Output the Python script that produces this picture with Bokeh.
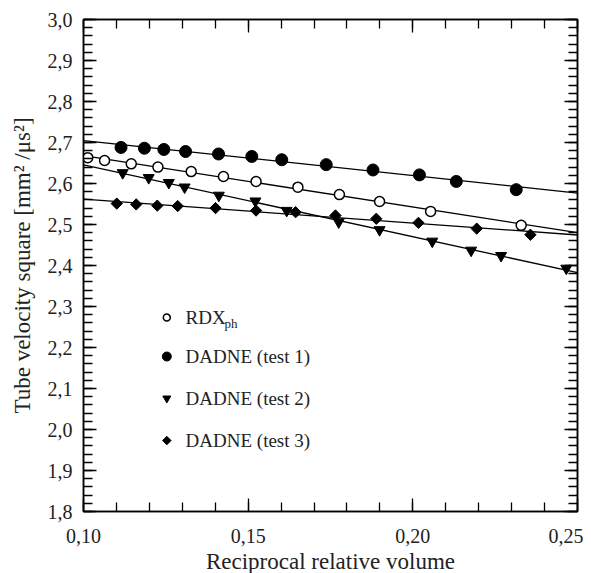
import numpy as np
from bokeh.plotting import figure
from bokeh.models import Range1d, LinearAxis, FixedTicker, Label, CustomJSTickFormatter
from bokeh.embed import file_html
from bokeh.resources import INLINE

# ---- data ----
rdx_x = [0.1013, 0.1064, 0.1145, 0.1226, 0.1327, 0.1425, 0.1524, 0.1651, 0.1777, 0.1899, 0.2054, 0.2329]
rdx_y = [2.663, 2.656, 2.648, 2.640, 2.629, 2.617, 2.605, 2.591, 2.573, 2.556, 2.532, 2.498]

t1_x = [0.1114, 0.1185, 0.1244, 0.1310, 0.1410, 0.1511, 0.1602, 0.1737, 0.1879, 0.2020, 0.2132, 0.2314]
t1_y = [2.688, 2.686, 2.683, 2.678, 2.672, 2.666, 2.658, 2.646, 2.633, 2.621, 2.605, 2.585]

t2_x = [0.1119, 0.1198, 0.1259, 0.1307, 0.1411, 0.1522, 0.1617, 0.1775, 0.1899, 0.2059, 0.2177, 0.2268, 0.2466]
t2_y = [2.626, 2.614, 2.602, 2.591, 2.571, 2.557, 2.534, 2.506, 2.487, 2.459, 2.437, 2.424, 2.393]

t3_x = [0.1101, 0.1160, 0.1224, 0.1286, 0.1401, 0.1524, 0.1644, 0.1765, 0.1889, 0.2017, 0.2194, 0.2357]
t3_y = [2.551, 2.549, 2.546, 2.545, 2.540, 2.534, 2.530, 2.522, 2.514, 2.504, 2.490, 2.475]

labels = ["RDX", "DADNE (test 1)", "DADNE (test 2)", "DADNE (test 3)"]

x_major = [0.10, 0.15, 0.20, 0.25]
x_minor = [round(0.10 + 0.01 * i, 2) for i in range(16)]
y_major = [round(1.8 + 0.1 * i, 1) for i in range(13)]
y_minor = [round(1.8 + 0.02 * i, 2) for i in range(61)]

FONT = "Times New Roman, Liberation Serif, serif"

p = figure(frame_width=494, frame_height=492, output_backend="svg", toolbar_location=None,
           x_range=Range1d(0.10, 0.25), y_range=Range1d(1.8, 3.0),
           min_border_left=83, min_border_top=19, min_border_right=6, min_border_bottom=50)
p.background_fill_color = "white"
p.border_fill_color = "white"
p.outline_line_color = "black"
p.outline_line_width = 1.5
p.xgrid.visible = False
p.ygrid.visible = False

xfmt = CustomJSTickFormatter(code="return tick.toFixed(2).replace('.', ',');")
yfmt = CustomJSTickFormatter(code="return tick.toFixed(1).replace('.', ',');")

def style(ax, ticks, minor, fmt, labels_on=True):
    ax.ticker = FixedTicker(ticks=ticks, minor_ticks=minor)
    ax.formatter = fmt
    ax.axis_line_color = "black"
    ax.axis_line_width = 1.5
    ax.major_tick_in = 13
    ax.major_tick_out = 0
    ax.minor_tick_in = 9
    ax.minor_tick_out = 0
    ax.major_tick_line_color = "black"
    ax.minor_tick_line_color = "black"
    ax.major_tick_line_width = 1.3
    ax.minor_tick_line_width = 1.3
    ax.major_label_text_font = FONT
    ax.major_label_text_color = "#222222"
    ax.axis_label_text_font = FONT
    ax.axis_label_text_font_style = "normal"
    ax.axis_label_text_color = "#222222"
    if labels_on:
        ax.major_label_text_font_size = "20px"
        ax.axis_label_text_font_size = "23px"
    else:
        ax.major_label_text_font_size = "1px"
        ax.major_label_text_color = None
        ax.major_label_standoff = 0

xa = p.xaxis[0]
style(xa, x_major, x_minor, xfmt)
xa.major_label_standoff = 17
xa.axis_label = "Reciprocal relative volume"
xa.axis_label_standoff = 3

ya = p.yaxis[0]
style(ya, y_major, y_minor, yfmt)
ya.major_label_standoff = 11
ya.axis_label = "Tube velocity square [mm\u00b2 /\u03bcs\u00b2]"
ya.axis_label_standoff = 10

top = LinearAxis()
style(top, x_major, x_minor, xfmt, labels_on=False)
p.add_layout(top, "above")
right = LinearAxis()
style(right, y_major, y_minor, yfmt, labels_on=False)
p.add_layout(right, "right")

# fitted lines
for xs, ys in [(rdx_x, rdx_y), (t1_x, t1_y), (t2_x, t2_y), (t3_x, t3_y)]:
    k, b = np.polyfit(xs, ys, 1)
    lx = [0.10, 0.25]
    p.line(lx, [k * v + b for v in lx], line_color="black", line_width=1.3)

p.scatter(rdx_x, rdx_y, marker="circle", size=10, fill_color="white", line_color="black", line_width=1.5)
p.scatter(t1_x, t1_y, marker="circle", size=12, fill_color="black", line_color="black")
p.scatter(t2_x, t2_y, marker="inverted_triangle", size=11, fill_color="black", line_color="black")
p.scatter(t3_x, t3_y, marker="square", angle=np.pi / 4, size=8, fill_color="black", line_color="black")

# legend (manual)
leg_mx = 0.1253
leg_tx = 0.1310
leg_y = [2.273, 2.178, 2.076, 1.973]
p.scatter([leg_mx], [leg_y[0]], marker="circle", size=7, fill_color="white", line_color="black", line_width=1.5)
p.scatter([leg_mx], [leg_y[1]], marker="circle", size=9, fill_color="black", line_color="black")
p.scatter([leg_mx], [leg_y[2]], marker="inverted_triangle", size=8, fill_color="black", line_color="black")
p.scatter([leg_mx], [leg_y[3]], marker="square", angle=np.pi / 4, size=6, fill_color="black", line_color="black")
for lab, yy in zip(labels, leg_y):
    p.add_layout(Label(x=leg_tx, y=yy, text=lab, text_font=FONT, text_font_size="19px",
                       text_baseline="middle", text_color="#222222"))
# subscript for RDX_ph
p.add_layout(Label(x=leg_tx, y=leg_y[0], x_offset=39, y_offset=-6, text="ph", text_font=FONT,
                   text_font_size="13px", text_baseline="middle", text_color="#222222"))

open("out.html", "w").write(file_html(p, INLINE))
